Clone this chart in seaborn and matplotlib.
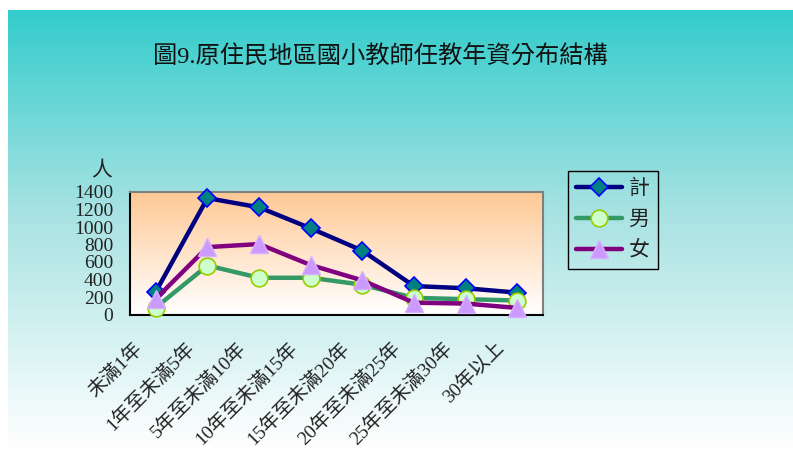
import numpy as np
import pandas as pd
import matplotlib
matplotlib.use("Agg")
import matplotlib.pyplot as plt
import matplotlib.transforms as mtransforms
from matplotlib.colors import LinearSegmentedColormap
import seaborn as sns

sns.set_style("white")
plt.rcParams['font.family'] = ['Liberation Serif', 'Noto Sans CJK TC', 'DejaVu Sans']

# ---- data ----
title = "圖9.原住民地區國小教師任教年資分布結構"
y_unit = "人"
categories = ["未滿1年", "1年至未滿5年", "5年至未滿10年", "10年至未滿15年",
              "15年至未滿20年", "20年至未滿25年", "25年至未滿30年", "30年以上"]
series_names = ["計", "男", "女"]
total = [260, 1330, 1225, 985, 730, 325, 300, 250]
male = [80, 560, 420, 420, 340, 190, 175, 160]
female = [180, 770, 805, 565, 390, 135, 125, 75]
y_ticks = [0, 200, 400, 600, 800, 1000, 1200, 1400]

df = pd.DataFrame({
    "pos": list(range(len(categories))) * 3,
    "value": total + male + female,
    "series": [s for s in series_names for _ in categories],
})

styles = {
    "計": dict(color="#000080", marker="D", markersize=9.5, markerfacecolor="#008080",
              markeredgecolor="#0000FF", markeredgewidth=1.2),
    "男": dict(color="#339966", marker="o", markersize=12, markerfacecolor="#CCFFCC",
              markeredgecolor="#99CC00", markeredgewidth=1.2),
    "女": dict(color="#800080", marker="^", markersize=13, markerfacecolor="#CC99FF",
              markeredgecolor="#D5B0FF", markeredgewidth=1.0),
}

W, H = 793, 449
fig = plt.figure(figsize=(W / 100, H / 100), dpi=100)
fig.patch.set_facecolor("white")

# figure background gradient
bg = fig.add_axes([0, 0, 1, 1], zorder=-10)
bg_cmap = LinearSegmentedColormap.from_list("bg", [(0, "#33CCCC"), (0.45, "#A6E2E2"), (1, "#FFFFFF")])
grad = np.linspace(0, 1, 256).reshape(-1, 1)
bg.imshow(grad, cmap=bg_cmap, aspect="auto", extent=[8, W, H, 10])
bg.set_xlim(0, W)
bg.set_ylim(H, 0)
bg.axis("off")

# plot area
ax = fig.add_axes([130 / W, 1 - 314.5 / H, 413 / W, 122.5 / H])
ax.set_xlim(-0.5, len(categories) - 0.5)
ax.set_ylim(0, 1400)
pa_cmap = LinearSegmentedColormap.from_list("pa", ["#FFC894", "#FFFFFF"])
ax.imshow(grad, cmap=pa_cmap, aspect="auto",
          extent=[-0.5, len(categories) - 0.5, 0, 1400], origin="upper", zorder=0)

for s in series_names:
    sub = df[df["series"] == s]
    sns.lineplot(data=sub, x="pos", y="value", ax=ax, linewidth=3.2, label=s,
                 legend=False, zorder=3, clip_on=False, **styles[s])

ax.set_xlabel("")
ax.set_ylabel("")

# spines
for side in ["left", "bottom"]:
    ax.spines[side].set_color("black")
    ax.spines[side].set_linewidth(1.5)
for side in ["top", "right"]:
    ax.spines[side].set_color("#808080")
    ax.spines[side].set_linewidth(1.5)

# y axis
ax.set_yticks(y_ticks)
ax.set_yticklabels([str(v) for v in y_ticks], fontsize=14)
ax.tick_params(axis="y", direction="in", length=5, width=1.2, pad=12, colors="black",
               labelcolor="#222222")

# x axis
ax.set_xticks(range(len(categories)))
ax.set_xticklabels(categories, fontsize=14, rotation=45, ha="right", va="center",
                   rotation_mode="anchor", color="#222222")
ax.tick_params(axis="x", which="major", length=0, pad=22)
ax.set_xticks(np.arange(0.5, len(categories) - 0.5, 1), minor=True)
ax.tick_params(axis="x", which="minor", direction="in", length=5, width=1.2, color="black")
offset = mtransforms.ScaledTranslation(-0.16, 0, fig.dpi_scale_trans)
for lbl in ax.get_xticklabels():
    lbl.set_transform(lbl.get_transform() + offset)

# unit label
ax.text(-0.068, 1.09, y_unit, transform=ax.transAxes, fontsize=15, ha="center", va="bottom",
        color="#222222")

# title
fig.text(380 / W, 1 - 57 / H, title, fontsize=17.5, ha="center", va="center", color="#111111")

# legend
handles, labels = ax.get_legend_handles_labels()
leg = fig.legend(handles, labels, loc="upper left",
                 bbox_to_anchor=(568 / W, 1 - 171 / H), bbox_transform=fig.transFigure,
                 frameon=True, fancybox=False, facecolor="none", edgecolor="black",
                 fontsize=15, handlelength=2.2, handletextpad=0.3, labelspacing=0.55,
                 borderpad=0.4, borderaxespad=0, numpoints=1)
leg.get_frame().set_linewidth(1.0)
leg.get_frame().set_alpha(None)
for t in leg.get_texts():
    t.set_color("#222222")

fig.savefig("out.png", dpi=100)
